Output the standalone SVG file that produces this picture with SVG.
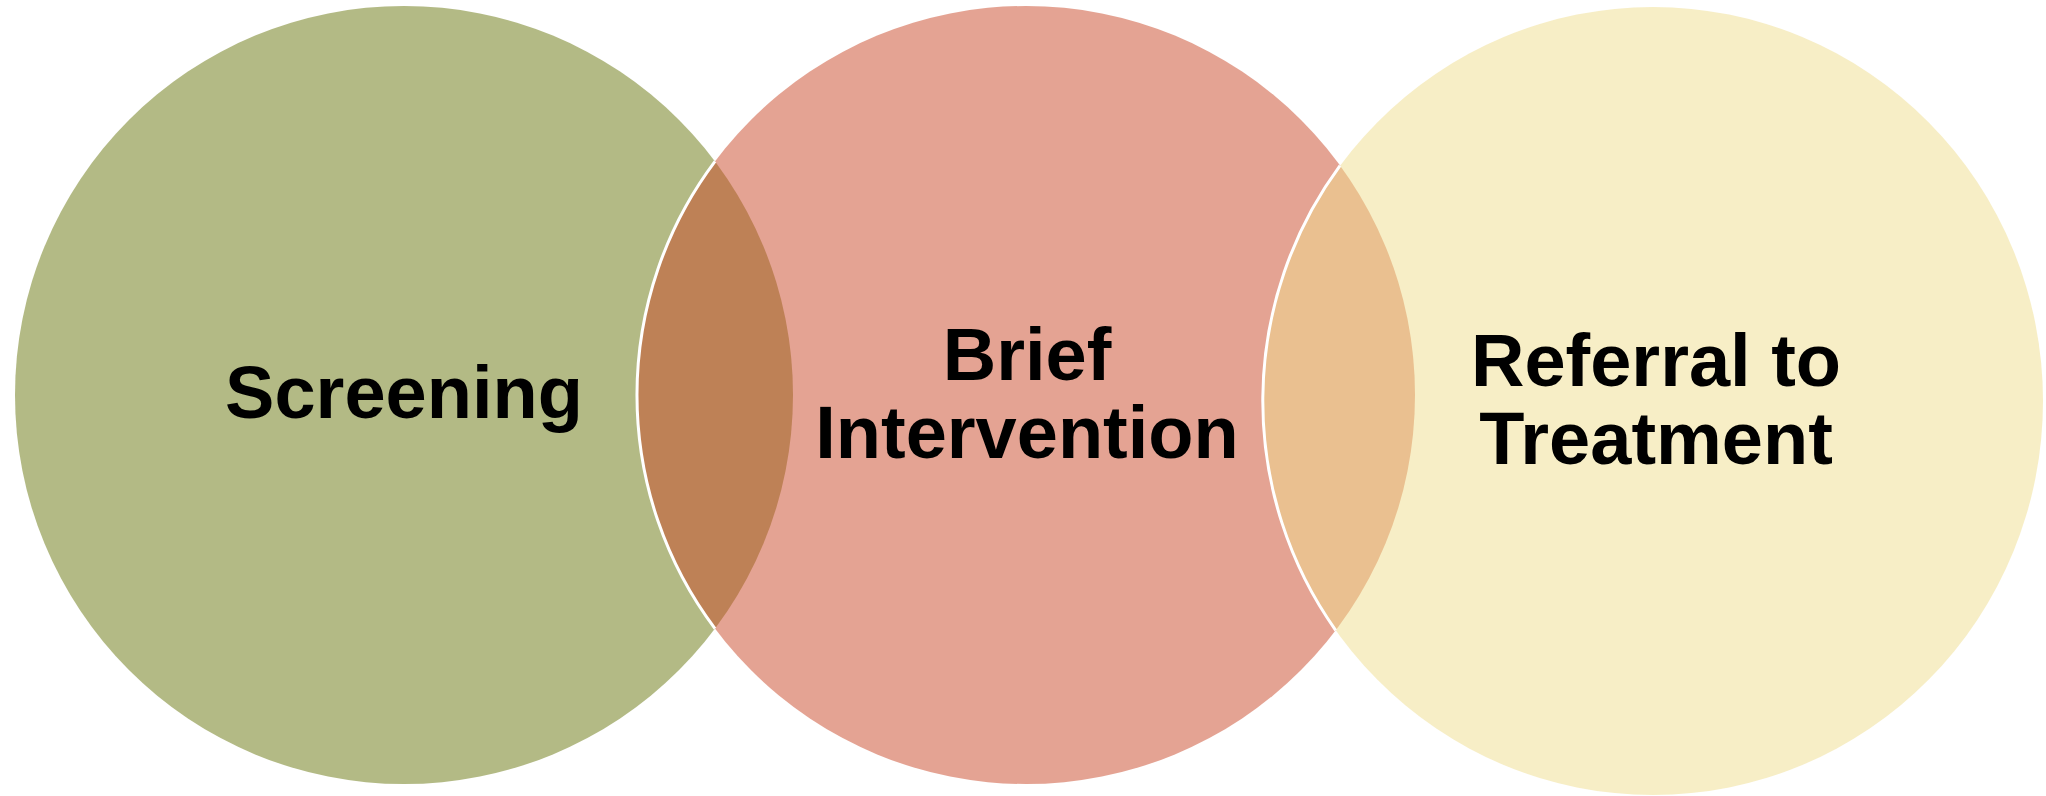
<svg xmlns="http://www.w3.org/2000/svg" width="2046" height="796" viewBox="0 0 2046 796">
  <style>
    .ring { fill-opacity: 0.5; stroke: none; }
    .label { font-family: "Liberation Sans", Arial, sans-serif; font-weight: bold; font-size: 74px; fill: #000000; text-anchor: middle; }
    .edge { fill: none; stroke: #FFFFFF; stroke-width: 3; }
  </style>
  <rect width="2046" height="796" fill="#FFFFFF"/>

  <g id="screening">
    <circle class="ring" cx="404" cy="395" r="389" fill="rgb(103,117,11)"/>
    <text class="label" x="404" y="418">Screening</text>
  </g>

  <g id="brief-intervention">
    <circle class="ring" cx="1026" cy="395" r="389" fill="rgb(201,71,39)"/>
    <text class="label" x="1027" y="380">Brief</text>
    <text class="label" x="1027" y="458">Intervention</text>
  </g>

  <g id="referral-to-treatment">
    <ellipse class="ring" cx="1653" cy="401" rx="390" ry="394" fill="rgb(239,221,141)"/>
    <text class="label" x="1656" y="386">Referral to</text>
    <text class="label" x="1656" y="464">Treatment</text>
  </g>

  <!-- white rims where a circle's left edge crosses its neighbour -->
  <g id="connectors">
    <path class="edge" d="M715,161.3 A389,389 0 0 0 715,628.7"/>
    <path class="edge" d="M1340,165.6 A390,394 0 0 0 1335.7,630.3"/>
  </g>
</svg>
